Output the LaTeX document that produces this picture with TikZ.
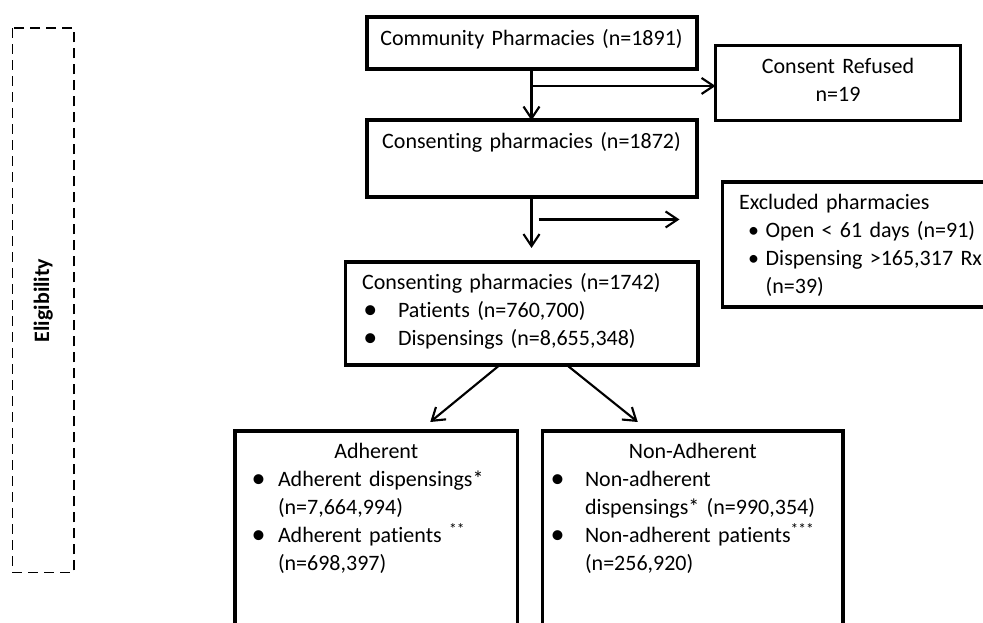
\documentclass[tikz,border=0pt]{standalone}
\usepackage{fontspec}
\setmainfont{Carlito}[Ligatures=CommonOff]
\usepackage{tikz}
\newcommand{\bigdot}{\raisebox{-0.6pt}{\fontsize{21pt}{21pt}\selectfont\textbullet}}
\newcommand{\bul}[4][\textbullet]{\par\noindent\hangindent=#3\hangafter=1\hspace*{#2}\makebox[\dimexpr#3-#2\relax][l]{#1}#4\par}
\newcommand{\boxhead}[1]{\makebox[\hsize][c]{#1}\par}
\tikzset{
  box_font/.style = {font=\fontsize{16.5pt}{21pt}\selectfont},
  heavy_line/.style = {line width=3pt},
  box_line/.style = {line width=2.4pt},
  keep_left/.style = {anchor=north west},
  box/.style = {box_font, draw, box_line, keep_left, outer sep=0, inner ysep=9pt, text height=12pt}
}
\tikzset{
  arrow/.style = {line width=1.6pt, -{Straight Barb[length=9pt, width=12pt]}},
  elig_frame/.style = {draw, line width=1.2pt, dash pattern=on 7.5pt off 4.5pt, inner sep=0,
    font=\bfseries\fontsize{16.5pt}{21pt}\selectfont}
}
\usetikzlibrary{arrows.meta, calc}

\begin{document}
\begin{tikzpicture}[x=0.75pt, y=-0.75pt,
            % every node/.style={draw},
            ]{
        \useasboundingbox (0,0) rectangle (983,623);
        \clip (0,0) rectangle (983,623);

        % Side frame
        \node[elig_frame, rotate=90, minimum width=408.3pt, minimum height=46pt] at (43.35,300.5) (elig) {Eligibility};

        % Pharmacies
        \node[box, heavy_line, align=center, inner xsep=8pt, text width=231.5pt, text depth=8.6pt] at (366.5,17.5) (comm) {
            Community Pharmacies (n=1891)};
        \node[box, heavy_line, align=center, inner xsep=8pt, text width=231.5pt, text depth=27.4pt] at ($(comm.south west)+(0,51.5)$) (cons) {
            Consenting pharmacies (n=1872)};
        \node[box, align=center, inner xsep=8pt, text width=167.75pt, text depth=26.25pt] at (715.5,45.5) (refused) {
            Consent Refused \\
            n=19};
        \node[box, align=left, inner xsep=12.4pt, text width=190.8pt, text depth=63.75pt] at (722.5,182) (excl) {
            Excluded pharmacies
            \bul{6.75pt}{20pt}{Open < 61 days (n=91)}
            \bul{6.75pt}{20pt}{Dispensing >165,317 Rx\newline(n=39)}
            };
        \node[box, align=left, inner xsep=12.4pt, text width=239.6pt, text depth=47.25pt] at ($(cons.south west)+(-21,65)$) (cons_2) {
            Consenting pharmacies (n=1742)
            \bul[\bigdot]{1pt}{27pt}{Patients (n=760,700)}
            \bul[\bigdot]{1pt}{27pt}{Dispensings (n=8,655,348)}
            };

        % Adherence
        \node[box, align=left, inner xsep=12pt, text width=187.875pt, text depth=135pt] at (235,431) (adh) {
            \boxhead{Adherent}
            \bul[\bigdot]{0.5pt}{20.25pt}{Adherent dispensings*\newline(n=7,664,994)}
            \bul[\bigdot]{0.5pt}{20.25pt}{Adherent patients \textsuperscript{**}\newline(n=698,397)}
            };
        \node[box, align=left, inner xsep=6pt, text width=213.4pt, text depth=135pt] at ($(adh.north east)+(25,0)$) (non_adh) {
            \boxhead{Non-Adherent}
            \bul[\bigdot]{0pt}{25.9pt}{Non-adherent\newline dispensings* (n=990,354)}
            \bul[\bigdot]{0pt}{25.9pt}{Non-adherent patients\textsuperscript{***}\newline(n=256,920)}
            };

        % Arrows
        \coordinate (split) at ($(comm.south)+(0,17)$);
        \draw[arrow] (comm.south)--(cons.north);
        \draw[arrow] (split)--(split -| refused.west);

        \coordinate (skip_from) at ($(cons.south)+(7,22.5)$);
        \coordinate (skip_to) at ($(skip_from -| excl.west)+(-43,0)$);
        \draw[arrow] (cons.south)--($(cons.south |- cons_2.north)+(0,-14)$);
        \draw[arrow] (skip_from)--(skip_to);

        \draw[arrow] ($(cons_2.south)+(-22,0)$)--($(adh.north)+(54,-9)$);
        \draw[arrow] ($(cons_2.south)+(45,0)$)--($(non_adh.north)+(-55,-9)$);
        }
\end{tikzpicture}
\end{document}
